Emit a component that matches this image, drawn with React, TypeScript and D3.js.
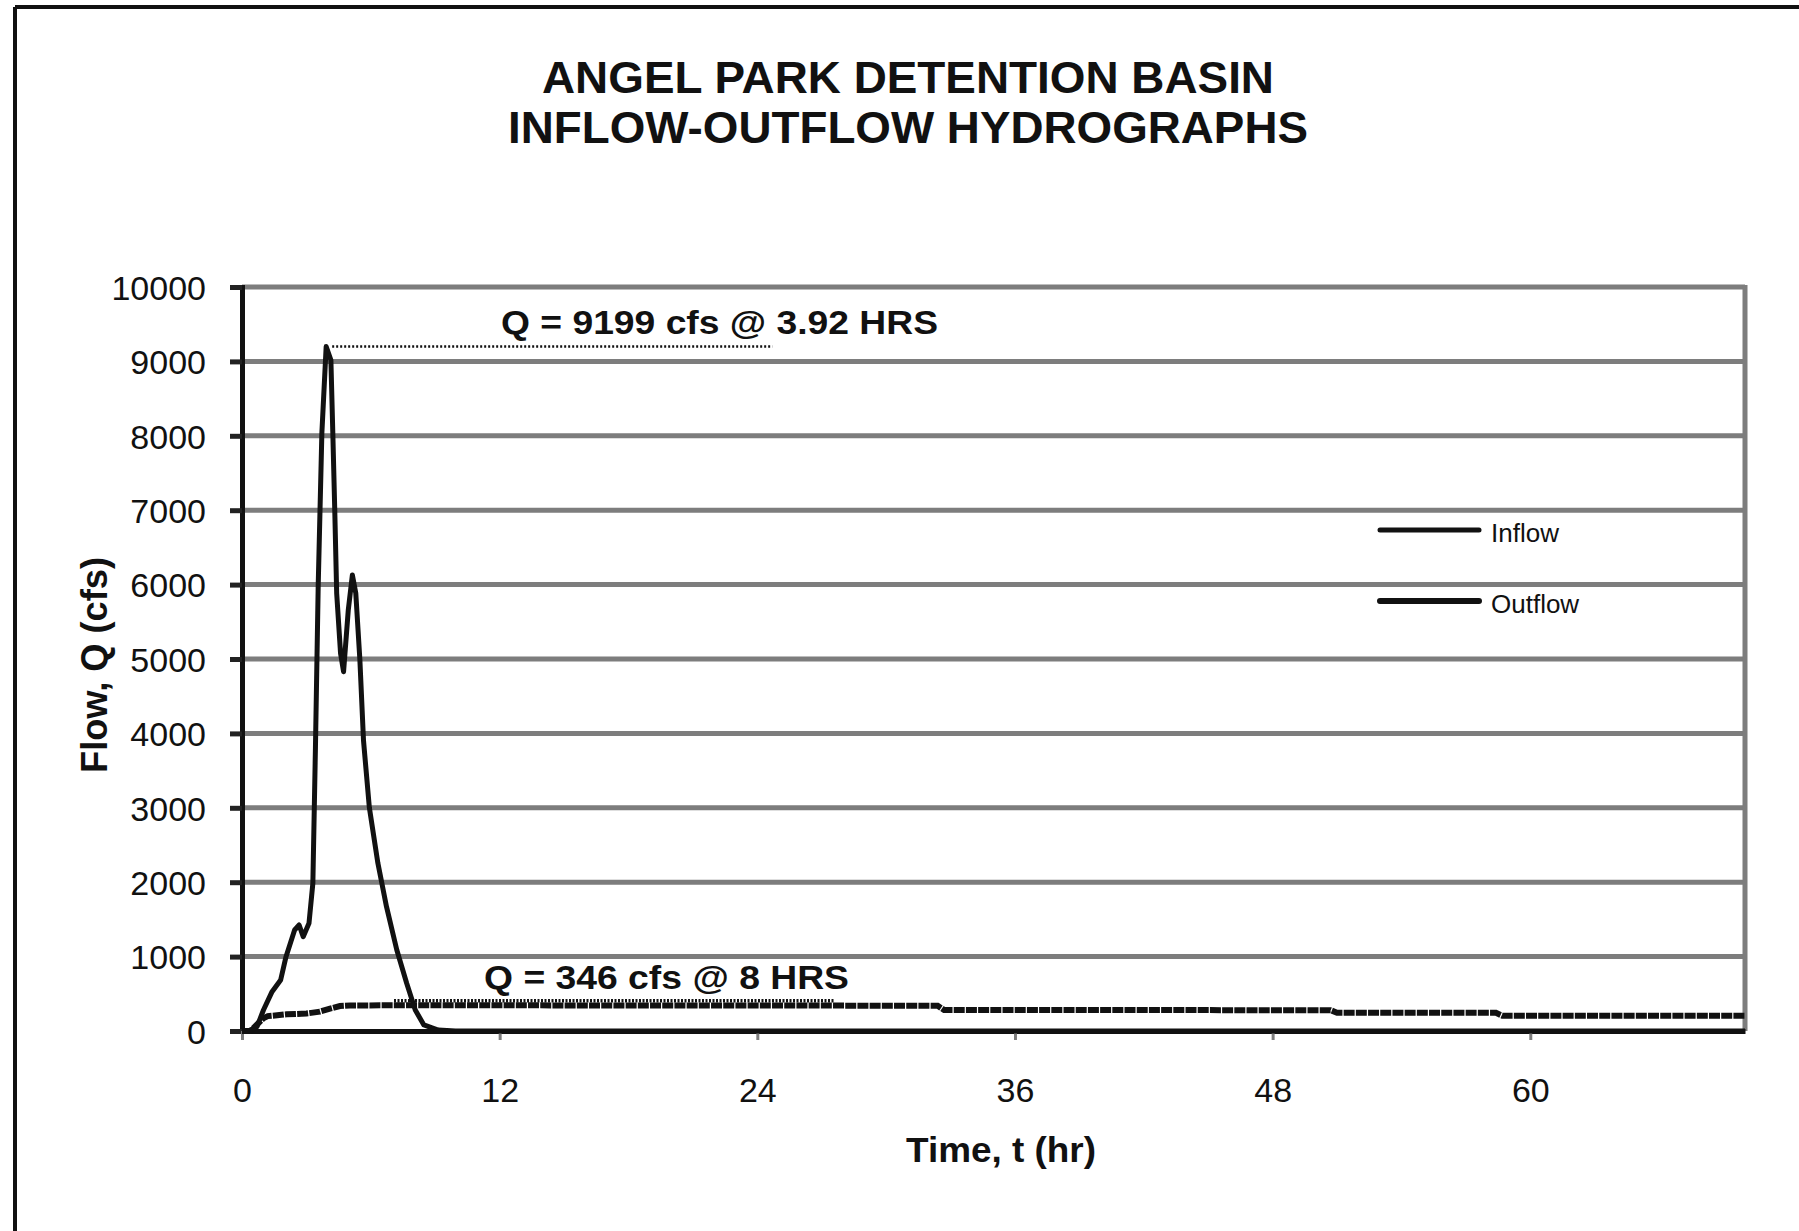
import { useEffect, useRef } from "react";
import * as d3 from "d3";

// hydrograph values (hours, cfs)
const inflowTime = [0, 0.3, 0.7, 1.0, 1.4, 1.8, 2.05, 2.45, 2.66, 2.85, 3.12, 3.3, 3.42, 3.55, 3.72, 3.92, 4.14, 4.23, 4.32, 4.41, 4.59, 4.73, 4.95, 5.14, 5.3, 5.49, 5.66, 5.93, 6.33, 6.73, 7.21, 7.67, 8.07, 8.47, 9.14, 9.94, 70];
const inflowQ = [0, 0, 58, 282, 529, 685, 999, 1358, 1425, 1268, 1447, 1985, 3800, 6000, 8040, 9199, 9019, 8034, 7003, 5883, 5077, 4829, 5659, 6130, 5883, 4987, 3900, 3006, 2254, 1671, 1089, 641, 282, 81, 13, 0, 0];

const outflowTime = [0, 0.4, 0.99, 1.2, 2.08, 3.0, 3.63, 4.1, 4.56, 5.03, 8, 32.4, 32.7, 50.7, 51.0, 58.4, 58.7, 70];
const outflowQ = [0, 0, 170, 200, 224, 235, 260, 300, 335, 343, 346, 340, 282, 280, 246, 244, 205, 205];

const xTicks = [0, 12, 24, 36, 48, 60];
const yTicks = [0, 1000, 2000, 3000, 4000, 5000, 6000, 7000, 8000, 9000, 10000];

const titleLines = ["ANGEL PARK DETENTION BASIN", "INFLOW-OUTFLOW HYDROGRAPHS"];
const seriesNames = ["Inflow", "Outflow"];

// peak annotations: label, dotted line start/end (hr), level (cfs)
const peakLabels = ["Q = 9199 cfs @ 3.92 HRS", "Q = 346 cfs @ 8 HRS"];
const peakFrom = [3.92, 6.8];
const peakTo = [24.7, 27.6];
const peakLevel = [9199, 405];

interface Pt { t: number; q: number; }

export default function App() {
  const svgRef = useRef<SVGSVGElement>(null);

  useEffect(() => {
    if (!svgRef.current) return;
    const svg = d3.select(svgRef.current);
    svg.selectAll("*").remove();

    const font = "'Liberation Sans', Arial, sans-serif";
    const grey = "#7d7d7d";

    const x = d3.scaleLinear().domain([0, 70]).range([242, 1745]);
    const y = d3.scaleLinear().domain([0, 10000]).range([1031, 287]);

    // outer frame (scan shows only top and left edges)
    svg.append("line").attr("x1", 15).attr("y1", 7).attr("x2", 1799).attr("y2", 7)
      .attr("stroke", "#111").attr("stroke-width", 4);
    svg.append("line").attr("x1", 15).attr("y1", 7).attr("x2", 15).attr("y2", 1231)
      .attr("stroke", "#111").attr("stroke-width", 4);

    // title
    const titleBase = [93, 143];
    const titleWidth = [732, 800];
    titleLines.forEach((t, i) => {
      svg.append("text")
        .attr("x", 908).attr("y", titleBase[i])
        .attr("text-anchor", "middle")
        .attr("font-family", font).attr("font-weight", "bold").attr("font-size", 44)
        .attr("textLength", titleWidth[i]).attr("lengthAdjust", "spacingAndGlyphs")
        .attr("fill", "#111")
        .text(t);
    });

    // horizontal gridlines
    svg.append("g").selectAll("line")
      .data(yTicks.filter(d => d > 0))
      .join("line")
      .attr("x1", x(0)).attr("x2", x(70))
      .attr("y1", d => y(d)).attr("y2", d => y(d))
      .attr("stroke", grey).attr("stroke-width", 5);

    // right border of plot area
    svg.append("line")
      .attr("x1", x(70)).attr("x2", x(70)).attr("y1", y(10000) - 2).attr("y2", y(0))
      .attr("stroke", grey).attr("stroke-width", 5);

    // y axis
    const yAxis = svg.append("g")
      .attr("transform", `translate(${x(0)},0)`)
      .call(d3.axisLeft(y).tickValues(yTicks).tickSize(12).tickPadding(24).tickFormat(d3.format("d")));
    yAxis.select(".domain").attr("stroke", "#111").attr("stroke-width", 5);
    yAxis.selectAll(".tick line").attr("stroke", "#222").attr("stroke-width", 5);
    yAxis.selectAll(".tick text")
      .attr("font-family", font).attr("font-size", 34).attr("fill", "#111")
      .attr("dy", "0.36em");

    // x axis
    const xAxis = svg.append("g")
      .attr("transform", `translate(0,${y(0)})`)
      .call(d3.axisBottom(x).tickValues(xTicks).tickSize(9).tickSizeOuter(0).tickPadding(38));
    xAxis.select(".domain").attr("stroke", "#111").attr("stroke-width", 5);
    xAxis.selectAll(".tick line").attr("stroke", grey).attr("stroke-width", 3);
    xAxis.selectAll(".tick text")
      .attr("font-family", font).attr("font-size", 34).attr("fill", "#111");

    // axis titles
    svg.append("text")
      .attr("x", 1001).attr("y", 1162).attr("text-anchor", "middle")
      .attr("font-family", font).attr("font-weight", "bold").attr("font-size", 35)
      .attr("textLength", 190).attr("lengthAdjust", "spacingAndGlyphs")
      .attr("fill", "#111").text("Time, t (hr)");
    svg.append("text")
      .attr("transform", "translate(107,665) rotate(-90)")
      .attr("text-anchor", "middle")
      .attr("font-family", font).attr("font-weight", "bold").attr("font-size", 36)
      .attr("textLength", 216).attr("lengthAdjust", "spacingAndGlyphs")
      .attr("fill", "#111").text("Flow, Q (cfs)");

    const inflow: Pt[] = inflowTime.map((t, i) => ({ t, q: inflowQ[i] }));
    const outflow: Pt[] = outflowTime.map((t, i) => ({ t, q: outflowQ[i] }));

    const inLine = d3.line<Pt>().x(d => x(d.t)).y(d => y(d.q));
    const outLine = d3.line<Pt>().x(d => x(d.t)).y(d => y(d.q));

    // outflow
    svg.append("path")
      .datum(outflow)
      .attr("fill", "none")
      .attr("stroke", "#111")
      .attr("stroke-width", 6)
      .attr("stroke-dasharray", "11,1.2")
      .attr("d", outLine);

    // inflow
    svg.append("path")
      .datum(inflow)
      .attr("fill", "none")
      .attr("stroke", "#111")
      .attr("stroke-width", 5)
      .attr("stroke-linejoin", "round")
      .attr("d", inLine);

    // peak annotations
    const labelX = [501, 484];
    const labelBase = [334, 989];
    const labelWidth = [437, 365];
    const labelSize = [34, 33];
    const dotWidth = [2.5, 3.5];
    const dotDash = ["2,2", "2,1.5"];
    peakLabels.forEach((lbl, i) => {
      svg.append("line")
        .attr("x1", x(peakFrom[i]) + 6).attr("x2", x(peakTo[i]))
        .attr("y1", y(peakLevel[i])).attr("y2", y(peakLevel[i]))
        .attr("stroke", "#111").attr("stroke-width", dotWidth[i])
        .attr("stroke-dasharray", dotDash[i]);
      svg.append("text")
        .attr("x", labelX[i]).attr("y", labelBase[i])
        .attr("font-family", font).attr("font-weight", "bold").attr("font-size", labelSize[i])
        .attr("textLength", labelWidth[i]).attr("lengthAdjust", "spacingAndGlyphs")
        .attr("fill", "#111").text(lbl);
    });

    // legend
    const legend = svg.append("g").attr("transform", "translate(1380,530)");
    seriesNames.forEach((name, i) => {
      legend.append("line")
        .attr("x1", 0).attr("x2", 99).attr("y1", i * 71).attr("y2", i * 71)
        .attr("stroke", "#111").attr("stroke-width", i === 0 ? 5 : 6)
        .attr("stroke-linecap", "round")
        .attr("stroke-dasharray", i === 0 ? null : "11,1.2");
      legend.append("text")
        .attr("x", 111).attr("y", i * 71 + 12)
        .attr("font-family", font).attr("font-size", 26).attr("fill", "#111")
        .text(name);
    });
  }, []);

  return (
    <svg
      ref={svgRef}
      width={1799}
      height={1231}
      style={{ position: "absolute", left: 0, top: 0, background: "#fff", display: "block" }}
    />
  );
}
